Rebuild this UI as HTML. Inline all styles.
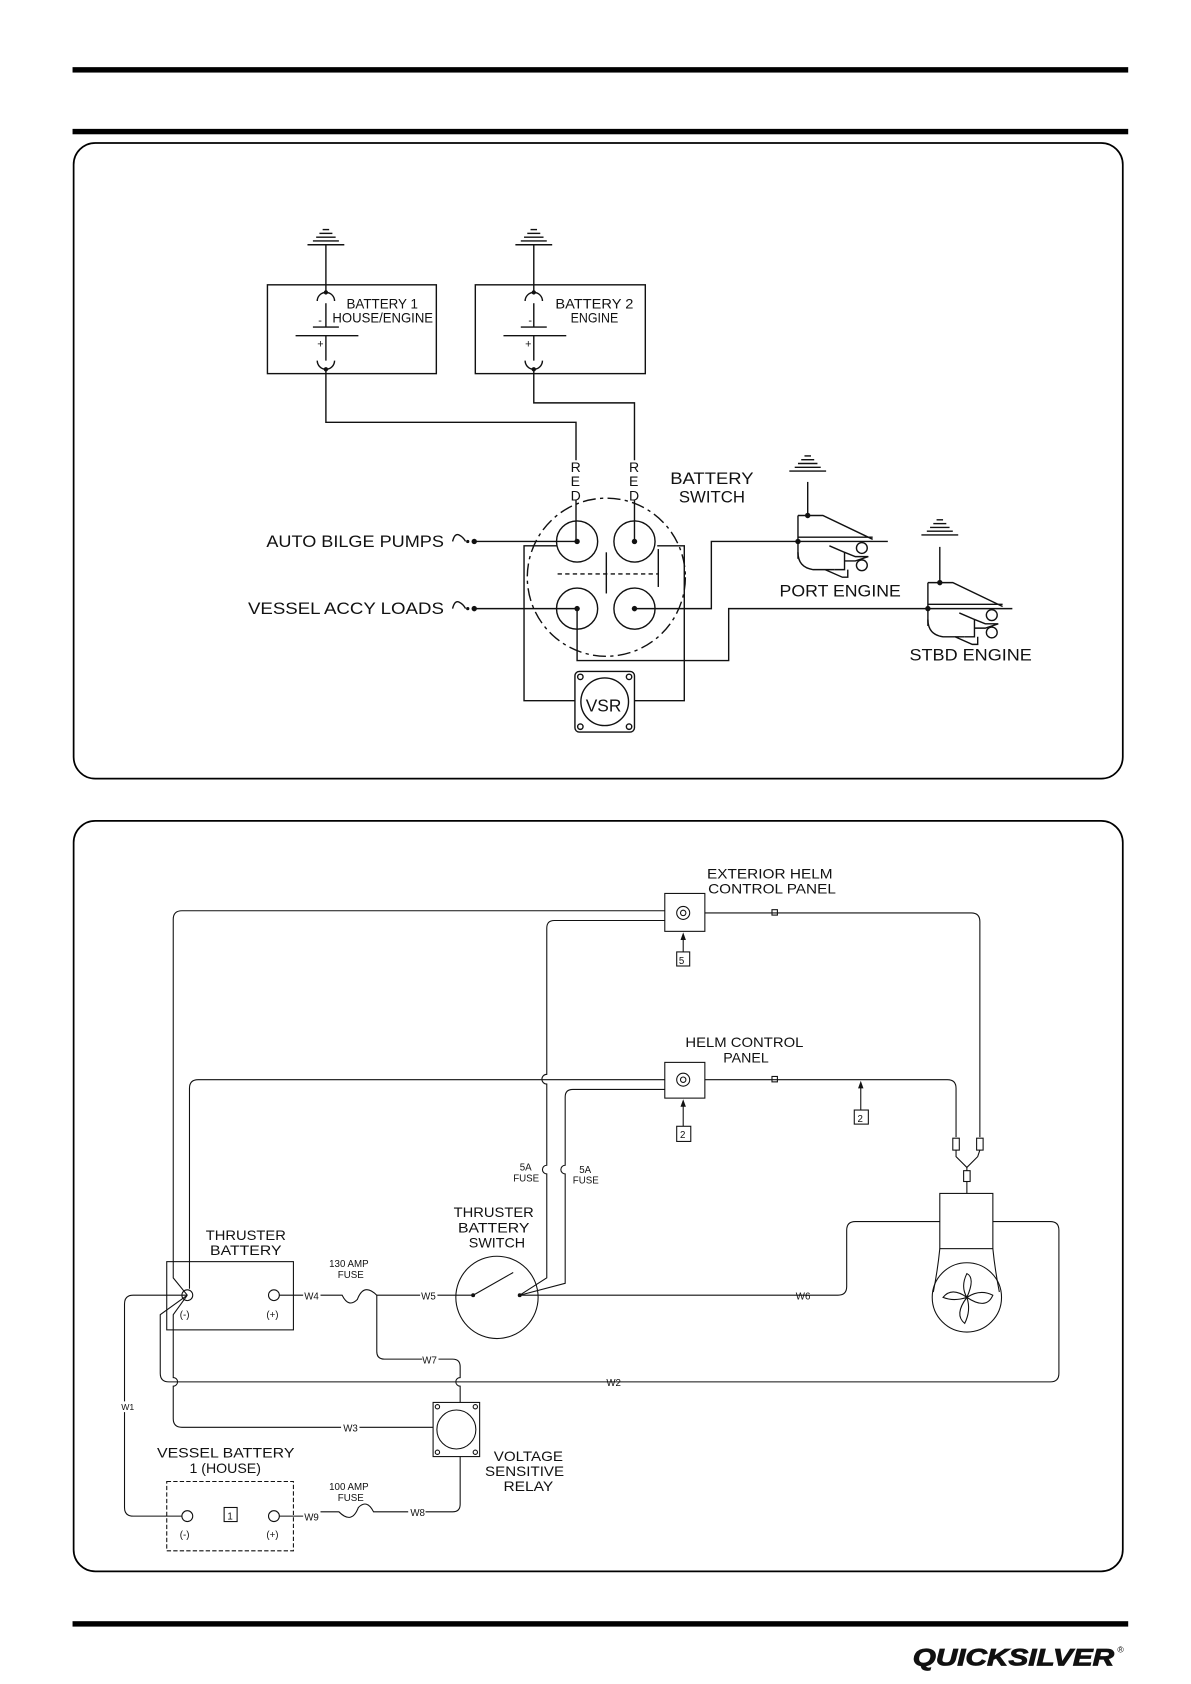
<!DOCTYPE html>
<html><head><meta charset="utf-8"><style>
html,body{margin:0;padding:0;background:#fff;}
svg{display:block;}
text{font-family:"Liberation Sans",sans-serif;fill:#111;}
</style></head><body>
<svg width="1191" height="1684" viewBox="0 0 1100 1555" preserveAspectRatio="none" xmlns="http://www.w3.org/2000/svg">
<g stroke="#000" fill="none">
<rect x="67" y="62" width="975" height="5" fill="#000" stroke="none"/>
<rect x="67" y="119" width="975" height="5" fill="#000" stroke="none"/>
<rect x="67" y="1497" width="975" height="5" fill="#000" stroke="none"/>
<rect x="68" y="132" width="969" height="587" rx="20" stroke-width="1.6"/>
<rect x="68" y="758" width="969" height="693" rx="20" stroke-width="1.6"/>
</g>

<!-- PANEL 1 -->
<g stroke="#111" fill="none" stroke-width="1.3">
<g id="g1">
<line x1="298" y1="212" x2="304" y2="212"/><line x1="295" y1="215.5" x2="307" y2="215.5"/><line x1="292" y1="219" x2="310" y2="219"/><line x1="289" y1="222.5" x2="313" y2="222.5"/><line x1="284" y1="226" x2="318" y2="226"/>
</g>
<use href="#g1" x="192"/>
<use href="#g1" x="445" y="209"/>
<use href="#g1" x="567" y="268"/>
<rect x="247" y="263" width="156" height="82"/>
<rect x="439" y="263" width="157" height="82"/>
<line x1="301" y1="226" x2="301" y2="270"/>
<line x1="493" y1="226" x2="493" y2="270"/>
<path d="M293 278 A8 8 0 0 1 309 278"/><path d="M485 278 A8 8 0 0 1 501 278"/>
<line x1="301" y1="280" x2="301" y2="302"/><line x1="493" y1="280" x2="493" y2="302"/>
<line x1="289" y1="302" x2="313" y2="302"/><line x1="481" y1="302" x2="505" y2="302"/>
<line x1="273" y1="310" x2="331" y2="310"/><line x1="465" y1="310" x2="523" y2="310"/>
<line x1="301" y1="310" x2="301" y2="333"/><line x1="493" y1="310" x2="493" y2="333"/>
<path d="M293 333 A8 8 0 0 0 309 333"/><path d="M485 333 A8 8 0 0 0 501 333"/>
<polyline points="301,341 301,390 532,390 532,425"/>
<polyline points="493,341 493,372 586,372 586,425"/>
<line x1="532" y1="462" x2="532" y2="500"/>
<line x1="586" y1="462" x2="586" y2="500"/>
<circle cx="560" cy="533" r="73" stroke-dasharray="12 4 3 4"/>
<circle cx="533" cy="500" r="19"/><circle cx="586" cy="500" r="19"/>
<circle cx="533" cy="562" r="19"/><circle cx="586" cy="562" r="19"/>
<line x1="515" y1="530" x2="608" y2="530" stroke-dasharray="4 3"/>
<line x1="560" y1="510" x2="560" y2="548"/>
<line x1="608" y1="507" x2="608" y2="542"/>
<polyline points="531,647 484,647 484,504 514,504"/>
<polyline points="607,504 632,504 632,647 586,647"/>
<rect x="531" y="620" width="55" height="56" rx="4"/>
<circle cx="558.5" cy="648" r="22"/>
<circle cx="536" cy="625" r="2.5"/><circle cx="581" cy="625" r="2.5"/><circle cx="536" cy="671" r="2.5"/><circle cx="581" cy="671" r="2.5"/>
<line x1="438" y1="500" x2="533" y2="500"/>
<line x1="438" y1="562" x2="533" y2="562"/>
<path d="M418 500 q2 -8 6 -6 q4 2 6 6"/><path d="M418 562 q2 -8 6 -6 q4 2 6 6"/>
<polyline points="586,562 657,562 657,500 820,500"/>
<polyline points="533,562 533,610 673,610 673,562 935,562"/>
<line x1="746" y1="445" x2="746" y2="476"/>
<line x1="868" y1="505" x2="868" y2="538"/>
</g>
<g fill="#111">
<circle cx="301" cy="270" r="2"/><circle cx="301" cy="341" r="2"/><circle cx="493" cy="270" r="2"/><circle cx="493" cy="341" r="2"/>
<circle cx="533" cy="500" r="2.5"/><circle cx="586" cy="500" r="2.5"/><circle cx="533" cy="562" r="2.5"/><circle cx="586" cy="562" r="2.5"/>
<circle cx="438" cy="500" r="2.5"/><circle cx="438" cy="562" r="2.5"/><circle cx="432" cy="500" r="1.5"/><circle cx="432" cy="562" r="1.5"/>
<circle cx="746" cy="476" r="2.5"/><circle cx="737" cy="500" r="2.5"/><circle cx="868" cy="538" r="2.5"/><circle cx="857" cy="562" r="2.5"/>
</g>
<g id="eng" stroke="#111" fill="none" stroke-width="1.3">
<polyline points="737,476 760,476 806,498"/>
<line x1="737" y1="476" x2="737" y2="516"/>
<line x1="737" y1="496" x2="806" y2="496"/>
<path d="M737 510 q0 14 14 16 l20 0"/>
<polyline points="762,526 778,533 783,533 783,526"/>
<polyline points="766,504 780,510 780,526 771,526"/>
<circle cx="796" cy="506" r="5"/><circle cx="796" cy="522" r="5"/>
<polyline points="780,510 790,514 802,514 790,518 780,518"/>
</g>
<use href="#eng" x="120" y="62"/>
<g font-size="15.5">
<text x="246" y="505" textLength="164" lengthAdjust="spacingAndGlyphs">AUTO BILGE PUMPS</text>
<text x="229" y="567" textLength="181" lengthAdjust="spacingAndGlyphs">VESSEL ACCY LOADS</text>
<text x="619" y="447" textLength="77" lengthAdjust="spacingAndGlyphs">BATTERY</text>
<text x="627" y="464" textLength="61" lengthAdjust="spacingAndGlyphs">SWITCH</text>
<text x="720" y="551" textLength="112" lengthAdjust="spacingAndGlyphs">PORT ENGINE</text>
<text x="840" y="610" textLength="113" lengthAdjust="spacingAndGlyphs">STBD ENGINE</text>
<text x="541" y="657" font-size="16">VSR</text>
</g>
<g font-size="13">
<text x="527" y="436">R</text><text x="527" y="449">E</text><text x="527" y="462">D</text>
<text x="581" y="436">R</text><text x="581" y="449">E</text><text x="581" y="462">D</text>
<text x="320" y="285" textLength="66" lengthAdjust="spacingAndGlyphs">BATTERY 1</text>
<text x="307" y="298" textLength="93" lengthAdjust="spacingAndGlyphs">HOUSE/ENGINE</text>
<text x="513" y="285" textLength="72" lengthAdjust="spacingAndGlyphs">BATTERY 2</text>
<text x="527" y="298" textLength="44" lengthAdjust="spacingAndGlyphs">ENGINE</text>
<text x="294" y="299" font-size="10">-</text><text x="488" y="299" font-size="10">-</text>
<text x="293" y="321" font-size="10">+</text><text x="485" y="321" font-size="10">+</text>
</g>

<!-- PANEL 2 -->
<g stroke="#111" fill="none" stroke-width="1">
<rect x="614" y="825" width="37" height="35"/><circle cx="631" cy="843" r="6"/><circle cx="631" cy="843" r="2.5"/>
<rect x="614" y="981" width="37" height="33"/><circle cx="631" cy="997" r="6"/><circle cx="631" cy="997" r="2.5"/>
<rect x="625" y="879" width="12" height="13"/>
<rect x="625" y="1040" width="13" height="14"/>
<rect x="789" y="1025" width="13" height="13"/>
<line x1="631" y1="879" x2="631" y2="864"/><line x1="631" y1="1040" x2="631" y2="1018"/><line x1="795" y1="1025" x2="795" y2="1001"/>
<path d="M614 841 L168 841 q-8 0 -8 8 L160 1180 L173 1196"/>
<path d="M614 850 L512 850 q-7 0 -7 7 L505 992 a3 3 0 0 0 0 9 L505 1076 a4 4 0 0 0 0 8 L505 1180 L480 1196"/>
<path d="M614 997 L183 997 q-8 0 -8 8 L175 1190"/>
<path d="M614 1006 L529 1006 q-7 0 -7 7 L522 1076 a4 4 0 0 0 0 8 L522 1185 L480 1196"/>
<path d="M651 843 L897 843 q8 0 8 8 L905 1050"/>
<path d="M651 997 L875 997 q8 0 8 8 L883 1050"/>
<rect x="713" y="840" width="5" height="5"/><rect x="713" y="994" width="5" height="5"/>
<rect x="880" y="1051" width="6" height="11"/><rect x="902" y="1051" width="6" height="11"/>
<polyline points="883,1062 883,1068 893,1078 903,1068 905,1062"/>
<line x1="893" y1="1078" x2="893" y2="1081"/>
<rect x="890" y="1081" width="6" height="10"/>
<line x1="893" y1="1091" x2="893" y2="1102"/>
<rect x="868" y="1102" width="49" height="51"/>
<path d="M868 1153 q-2 20 -6 40"/><path d="M917 1153 q2 20 6 40"/>
<circle cx="893" cy="1198" r="32"/>
<path d="M893 1198 q-6 -10 0 -22 q8 4 -0 22 q12 -8 24 -2 q-6 14 -24 2 q4 12 -2 24 q-10 -8 2 -24 q-12 4 -22 0 q8 -10 22 0"/>
<path d="M868 1128 L790 1128 q-8 0 -8 8 L782 1188 q0 8 -8 8 L480 1196"/>
<path d="M917 1128 L970 1128 q8 0 8 8 L978 1268 q0 8 -8 8 L156 1276 q-8 0 -8 -8 L148 1214 L173 1196"/>
<rect x="154" y="1165" width="117" height="63"/>
<circle cx="173" cy="1196" r="5"/><circle cx="253" cy="1196" r="5"/>
<line x1="258" y1="1196" x2="280" y2="1196"/>
<path d="M296 1196 L316 1196 q6 12 14 4 q6 -16 18 -4 L388 1196"/>
<line x1="404" y1="1196" x2="437" y2="1196"/>
<circle cx="459" cy="1198" r="38"/>
<line x1="437" y1="1196" x2="474" y2="1175"/>
<path d="M348 1196 L348 1248 q0 7 7 7 L390 1255"/>
<path d="M405 1255 L418 1255 q7 0 7 7 L425 1272 a4 4 0 0 0 0 8 L425 1295"/>
<path d="M173 1196 L123 1196 q-8 0 -8 8 L115 1294"/>
<path d="M115 1304 L115 1392 q0 8 8 8 L168 1400"/>
<path d="M173 1196 L160 1214 L160 1272 a4 4 0 0 1 0 8 L160 1310 q0 8 8 8 L315 1318"/>
<line x1="332" y1="1318" x2="400" y2="1318"/>
<rect x="400" y="1295" width="43" height="50"/>
<circle cx="421.5" cy="1320" r="18"/>
<circle cx="404" cy="1299" r="2"/><circle cx="439" cy="1299" r="2"/><circle cx="404" cy="1341" r="2"/><circle cx="439" cy="1341" r="2"/>
<path d="M425 1345 L425 1389 q0 7 -7 7 L393 1396"/>
<path d="M377 1396 L345 1396 q-6 -12 -14 -4 q-6 16 -18 4 L296 1396"/>
<line x1="258" y1="1400" x2="280" y2="1400"/>
<rect x="154" y="1368" width="117" height="64" stroke-dasharray="4 2"/>
<circle cx="173" cy="1400" r="5"/><circle cx="253" cy="1400" r="5"/>
<rect x="207" y="1392" width="12" height="13"/>
</g>
<g fill="#111">
<circle cx="437" cy="1196" r="1.8"/><circle cx="480" cy="1196" r="1.8"/>
<polygon points="631,861 628.5,868 633.5,868"/>
<polygon points="631,1015 628.5,1022 633.5,1022"/>
<polygon points="795,998 792.5,1005 797.5,1005"/>
</g>
<g font-size="13">
<text x="653" y="811" textLength="116" lengthAdjust="spacingAndGlyphs">EXTERIOR HELM</text>
<text x="654" y="825" textLength="118" lengthAdjust="spacingAndGlyphs">CONTROL PANEL</text>
<text x="633" y="967" textLength="109" lengthAdjust="spacingAndGlyphs">HELM CONTROL</text>
<text x="668" y="981" textLength="42" lengthAdjust="spacingAndGlyphs">PANEL</text>
<text x="419" y="1124" textLength="74" lengthAdjust="spacingAndGlyphs">THRUSTER</text>
<text x="423" y="1138" textLength="66" lengthAdjust="spacingAndGlyphs">BATTERY</text>
<text x="433" y="1152" textLength="52" lengthAdjust="spacingAndGlyphs">SWITCH</text>
<text x="190" y="1145" textLength="74" lengthAdjust="spacingAndGlyphs">THRUSTER</text>
<text x="194" y="1159" textLength="66" lengthAdjust="spacingAndGlyphs">BATTERY</text>
<text x="145" y="1346" textLength="127" lengthAdjust="spacingAndGlyphs">VESSEL BATTERY</text>
<text x="175" y="1360" textLength="66" lengthAdjust="spacingAndGlyphs">1 (HOUSE)</text>
<text x="456" y="1349" textLength="64" lengthAdjust="spacingAndGlyphs">VOLTAGE</text>
<text x="448" y="1363" textLength="73" lengthAdjust="spacingAndGlyphs">SENSITIVE</text>
<text x="465" y="1377" textLength="46" lengthAdjust="spacingAndGlyphs">RELAY</text>
</g>
<g font-size="9">
<text x="627" y="890">5</text><text x="628" y="1051">2</text><text x="792" y="1036">2</text><text x="210" y="1403">1</text>
<text x="166" y="1217">(-)</text><text x="246" y="1217">(+)</text>
<text x="166" y="1420">(-)</text><text x="246" y="1420">(+)</text>
<text x="304" y="1170">130 AMP</text><text x="312" y="1180">FUSE</text>
<text x="304" y="1376">100 AMP</text><text x="312" y="1386">FUSE</text>
<text x="480" y="1081">5A</text><text x="474" y="1091">FUSE</text>
<text x="535" y="1083">5A</text><text x="529" y="1093">FUSE</text>
<text x="281" y="1200">W4</text><text x="389" y="1200">W5</text><text x="735" y="1200">W6</text>
<text x="390" y="1259">W7</text><text x="560" y="1280">W2</text><text x="317" y="1322">W3</text>
<text x="379" y="1400">W8</text><text x="281" y="1404">W9</text>
<text x="112" y="1302" font-size="8">W1</text>
</g>
<text x="843" y="1538" font-size="22" font-weight="bold" font-style="italic" stroke="#111" stroke-width="0.8" textLength="186" lengthAdjust="spacingAndGlyphs">QUICKSILVER</text>
<text x="1032" y="1526" font-size="8">®</text>
</svg>
</body></html>
